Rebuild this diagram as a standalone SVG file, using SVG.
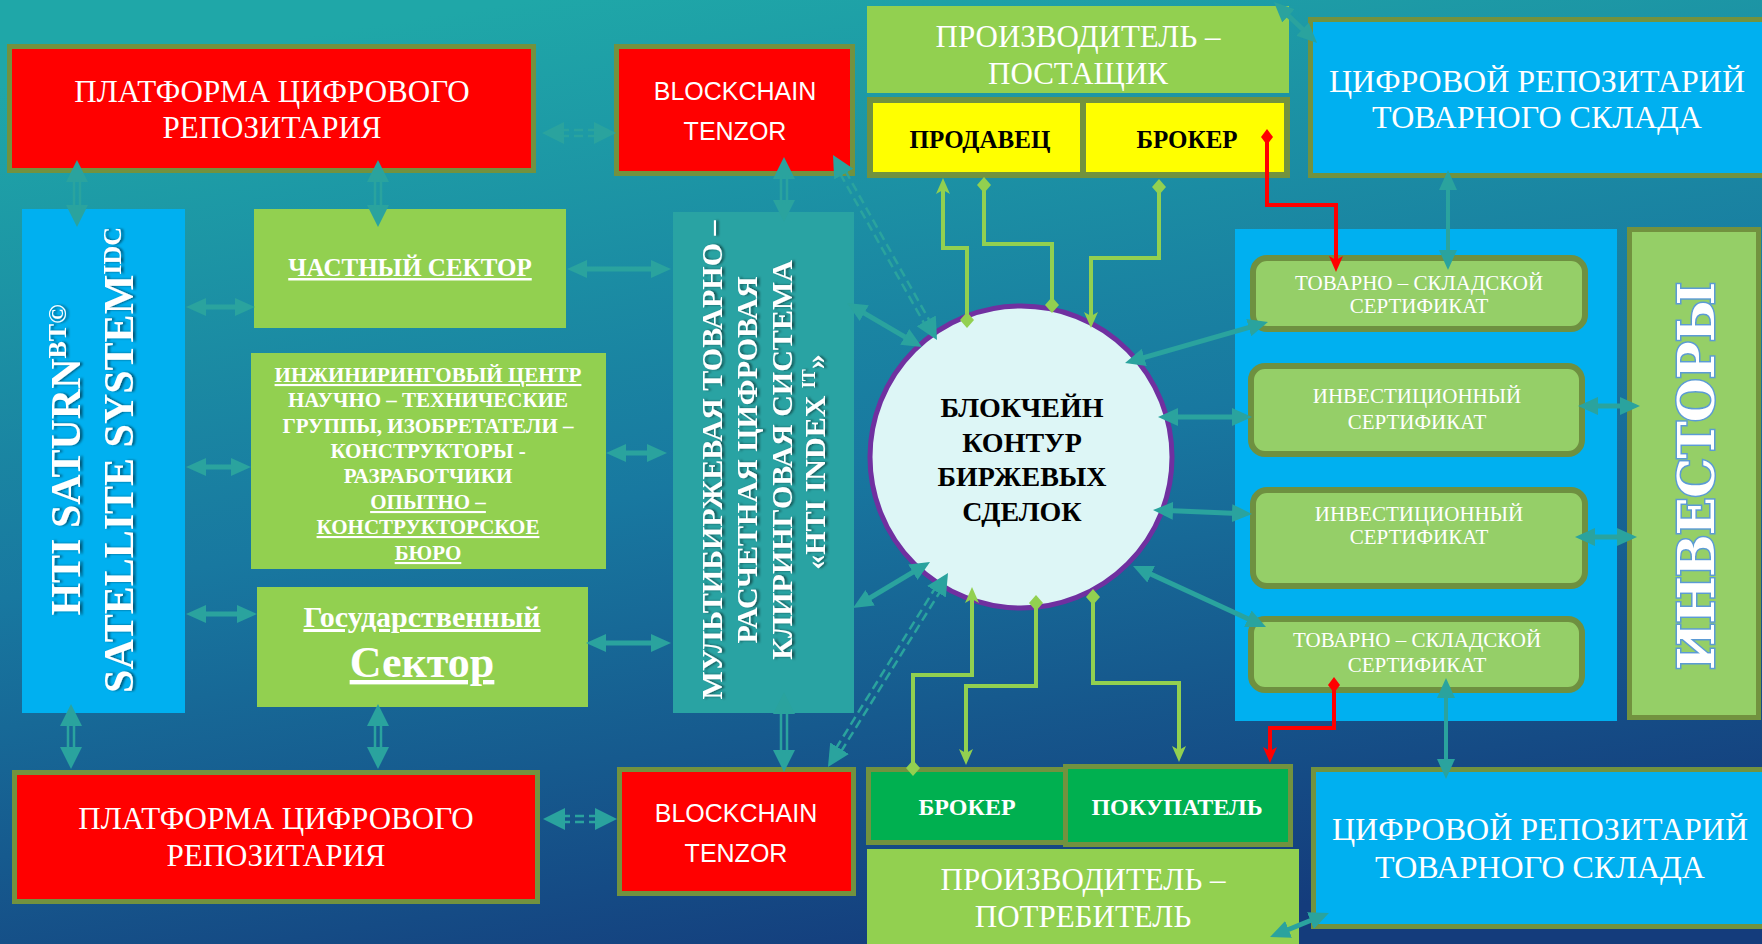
<svg xmlns="http://www.w3.org/2000/svg" width="1762" height="944" viewBox="0 0 1762 944">
<defs>
<linearGradient id="bg" x1="0.3" y1="0" x2="0.6" y2="1">
<stop offset="0" stop-color="#1FA7A8"/>
<stop offset="0.5" stop-color="#1878A0"/>
<stop offset="1" stop-color="#143C7C"/>
</linearGradient>
<filter id="sh" x="-10%" y="-20%" width="120%" height="140%"><feDropShadow dx="0" dy="2.5" stdDeviation="1.2" flood-color="#000" flood-opacity="0.5"/></filter>
<marker id="ta" viewBox="0 0 20 18" refX="6" refY="9" markerWidth="20" markerHeight="18" markerUnits="userSpaceOnUse" orient="auto-start-reverse"><path d="M0,0 L20,9 L0,18 z" fill="#2AA39E"/></marker>
<marker id="da" viewBox="0 0 22 22" refX="2" refY="11" markerWidth="22" markerHeight="22" markerUnits="userSpaceOnUse" orient="auto-start-reverse"><path d="M0,0 L22,11 L0,22 z" fill="#2AA39E"/></marker>
<marker id="ga" viewBox="0 0 16 14" refX="11" refY="7" markerWidth="16" markerHeight="14" markerUnits="userSpaceOnUse" orient="auto-start-reverse"><path d="M0,0 L16,7 L0,14 L4,7 z" fill="#92D050"/></marker>
<marker id="gd" viewBox="0 0 16 14" refX="8" refY="7" markerWidth="16" markerHeight="14" markerUnits="userSpaceOnUse" orient="auto"><path d="M0,7 L8,0 L16,7 L8,14 z" fill="#92D050"/></marker>
<marker id="ra" viewBox="0 0 16 14" refX="11" refY="7" markerWidth="16" markerHeight="14" markerUnits="userSpaceOnUse" orient="auto-start-reverse"><path d="M0,0 L16,7 L0,14 L4,7 z" fill="#FF0000"/></marker>
<marker id="rd" viewBox="0 0 16 12" refX="8" refY="6" markerWidth="16" markerHeight="12" markerUnits="userSpaceOnUse" orient="auto"><path d="M0,6 L8,0 L16,6 L8,12 z" fill="#FF0000"/></marker>
<style>
.s{font-family:"Liberation Serif","Times New Roman",serif}
.a{font-family:"Liberation Sans",Arial,sans-serif}
.w{fill:#FFFFFF}
.k{fill:#000000}
.b{font-weight:bold}
.m{text-anchor:middle}
.u{text-decoration:underline}
.rd{fill:#FF0000;stroke:#72923F;stroke-width:5}
.gr{fill:#92D050}
.bl{fill:#00B0F0}
.blb{fill:#00B0F0;stroke:#72923F;stroke-width:5}
.ye{fill:#FFFF00;stroke:#72923F;stroke-width:6}
.dg{fill:#00B050;stroke:#72923F;stroke-width:5}
.ct{fill:#95CF68;stroke:#6E9040;stroke-width:6}
.tl{fill:#29A3A3}
.inv{fill:#95CF67;stroke:#72923F;stroke-width:5}
.c1{fill:none;stroke:#2AA39E;stroke-width:5;marker-start:url(#ta);marker-end:url(#ta)}
.c2{fill:none;stroke:none;marker-start:url(#da);marker-end:url(#da)}
.dl{fill:none;stroke:#2AA39E;stroke-width:2.5}
.dd{fill:none;stroke:#2AA39E;stroke-width:2.5;stroke-dasharray:9 5}
.g{fill:none;stroke:#92D050;stroke-width:4}
.r{fill:none;stroke:#FF0000;stroke-width:4}
</style>
</defs>

<rect x="0" y="0" width="1762" height="944" fill="url(#bg)"/>

<g id="platform-top">
<rect class="rd" x="9.5" y="46.5" width="524" height="124"/>
<text class="s w m" font-size="31" x="272" y="102">ПЛАТФОРМА ЦИФРОВОГО</text>
<text class="s w m" font-size="31" x="272" y="138">РЕПОЗИТАРИЯ</text>
</g>

<g id="blockchain-top">
<rect class="rd" x="616.5" y="46.5" width="236" height="127"/>
<text class="a w m" font-size="25" x="735" y="100">BLOCKCHAIN</text>
<text class="a w m" font-size="25" x="735" y="140">TENZOR</text>
</g>

<g id="producer-supplier">
<rect class="gr" x="867" y="6" width="422" height="87"/>
<text class="s w m" font-size="31" x="1078" y="47">ПРОИЗВОДИТЕЛЬ –</text>
<text class="s w m" font-size="31" x="1078" y="84">ПОСТАЩИК</text>
</g>

<g id="seller-broker">
<rect class="ye" x="870" y="100" width="417" height="75"/>
<line x1="1083" y1="100" x2="1083" y2="175" stroke="#72923F" stroke-width="6"/>
<text class="s k b m" font-size="25" x="980" y="148">ПРОДАВЕЦ</text>
<text class="s k b m" font-size="25" x="1187" y="148">БРОКЕР</text>
</g>

<g id="repo-top">
<rect class="blb" x="1310.5" y="19.5" width="460" height="156"/>
<text class="s w m" font-size="32" x="1537" y="92">ЦИФРОВОЙ РЕПОЗИТАРИЙ</text>
<text class="s w m" font-size="32" x="1537" y="128">ТОВАРНОГО СКЛАДА</text>
</g>

<g id="hti-saturn">
<rect class="bl" x="22" y="209" width="163" height="504"/>
<text class="s w b m" font-size="42" filter="url(#sh)" transform="translate(80,460) rotate(-90)">HTI SATURN<tspan font-size="26" dy="-14">BT©</tspan></text>
<text class="s w b m" font-size="42" filter="url(#sh)" transform="translate(133,460) rotate(-90)">SATELLITE SYSTEM<tspan font-size="26" dy="-12">IDC</tspan></text>
</g>

<g id="private-sector">
<rect class="gr" x="254" y="209" width="312" height="119"/>
<text class="s w b m u" font-size="25" x="410" y="276">ЧАСТНЫЙ СЕКТОР</text>
</g>

<g id="engineering-center">
<rect class="gr" x="251" y="353" width="355" height="216"/>
<text class="s w b m u" font-size="21" x="428" y="382">ИНЖИНИРИНГОВЫЙ ЦЕНТР</text>
<text class="s w b m" font-size="21" x="428" y="407">НАУЧНО – ТЕХНИЧЕСКИЕ</text>
<text class="s w b m" font-size="21" x="428" y="433">ГРУППЫ, ИЗОБРЕТАТЕЛИ –</text>
<text class="s w b m" font-size="21" x="428" y="458">КОНСТРУКТОРЫ -</text>
<text class="s w b m" font-size="21" x="428" y="483">РАЗРАБОТЧИКИ</text>
<text class="s w b m u" font-size="21" x="428" y="509">ОПЫТНО –</text>
<text class="s w b m u" font-size="21" x="428" y="534">КОНСТРУКТОРСКОЕ</text>
<text class="s w b m u" font-size="21" x="428" y="560">БЮРО</text>
</g>

<g id="state-sector">
<rect class="gr" x="257" y="587" width="331" height="120"/>
<text class="s w b m u" font-size="30" x="422" y="627">Государственный</text>
<text class="s w b m u" font-size="44" x="422" y="677">Сектор</text>
</g>

<g id="clearing-system">
<rect class="tl" x="673" y="212" width="181" height="501"/>
<text class="s w b m" font-size="30" filter="url(#sh)" transform="translate(722,460) rotate(-90)">МУЛЬТИБИРЖЕВАЯ ТОВАРНО –</text>
<text class="s w b m" font-size="30" filter="url(#sh)" transform="translate(757,460) rotate(-90)">РАСЧЕТНАЯ ЦИФРОВАЯ</text>
<text class="s w b m" font-size="30" filter="url(#sh)" transform="translate(792,460) rotate(-90)">КЛИРИНГОВАЯ СИСТЕМА</text>
<text class="s w b m" font-size="30" filter="url(#sh)" transform="translate(825,462) rotate(-90)">«HTI INDEX <tspan font-size="18" dy="-10">IT</tspan><tspan dy="10">»</tspan></text>
</g>

<g id="blockchain-circuit">
<circle cx="1021" cy="457" r="151" fill="#DDF6F6" stroke="#7030A0" stroke-width="5"/>
<text class="s k b m" font-size="28" x="1022" y="417">БЛОКЧЕЙН</text>
<text class="s k b m" font-size="28" x="1022" y="452">КОНТУР</text>
<text class="s k b m" font-size="28" x="1022" y="486">БИРЖЕВЫХ</text>
<text class="s k b m" font-size="28" x="1022" y="521">СДЕЛОК</text>
</g>

<g id="certificates-panel">
<rect class="bl" x="1235" y="229" width="382" height="492"/>
</g>

<g id="cert-warehouse-1">
<rect class="ct" x="1253" y="258" width="332" height="71" rx="14"/>
<text class="s w m" font-size="21" x="1419" y="290">ТОВАРНО – СКЛАДСКОЙ</text>
<text class="s w m" font-size="21" x="1419" y="313">СЕРТИФИКАТ</text>
</g>

<g id="cert-investment-1">
<rect class="ct" x="1251" y="366" width="331" height="88" rx="14"/>
<text class="s w m" font-size="21" x="1417" y="403">ИНВЕСТИЦИОННЫЙ</text>
<text class="s w m" font-size="21" x="1417" y="429">СЕРТИФИКАТ</text>
</g>

<g id="cert-investment-2">
<rect class="ct" x="1253" y="490" width="332" height="96" rx="14"/>
<text class="s w m" font-size="21" x="1419" y="521">ИНВЕСТИЦИОННЫЙ</text>
<text class="s w m" font-size="21" x="1419" y="544">СЕРТИФИКАТ</text>
</g>

<g id="cert-warehouse-2">
<rect class="ct" x="1251" y="619" width="331" height="71" rx="14"/>
<text class="s w m" font-size="21" x="1417" y="647">ТОВАРНО – СКЛАДСКОЙ</text>
<text class="s w m" font-size="21" x="1417" y="672">СЕРТИФИКАТ</text>
</g>

<g id="investors">
<rect class="inv" x="1629.5" y="229.5" width="129" height="488"/>
<text font-family="'DejaVu Serif',serif" font-weight="bold" font-size="50" fill="#FFFFFF" stroke="#5B9BD5" stroke-width="3" paint-order="stroke" text-anchor="middle" textLength="388" transform="translate(1714,476) rotate(-90)">ИНВЕСТОРЫ</text>
</g>

<g id="platform-bottom">
<rect class="rd" x="14.5" y="772.5" width="523" height="129"/>
<text class="s w m" font-size="31" x="276" y="829">ПЛАТФОРМА ЦИФРОВОГО</text>
<text class="s w m" font-size="31" x="276" y="866">РЕПОЗИТАРИЯ</text>
</g>

<g id="blockchain-bottom">
<rect class="rd" x="619.5" y="769.5" width="234" height="124"/>
<text class="a w m" font-size="25" x="736" y="822">BLOCKCHAIN</text>
<text class="a w m" font-size="25" x="736" y="862">TENZOR</text>
</g>

<g id="broker-bottom">
<rect class="dg" x="868.5" y="769.5" width="200" height="73"/>
<text class="s w b m" font-size="24" x="967" y="815">БРОКЕР</text>
</g>

<g id="buyer">
<rect class="dg" x="1065.5" y="766.5" width="225" height="78"/>
<text class="s w b m" font-size="24" x="1177" y="815">ПОКУПАТЕЛЬ</text>
</g>

<g id="producer-consumer">
<rect class="gr" x="867" y="849" width="432" height="100"/>
<text class="s w m" font-size="31" x="1083" y="890">ПРОИЗВОДИТЕЛЬ –</text>
<text class="s w m" font-size="31" x="1083" y="927">ПОТРЕБИТЕЛЬ</text>
</g>

<g id="repo-bottom">
<rect class="blb" x="1313.5" y="769.5" width="460" height="157"/>
<text class="s w m" font-size="32" x="1540" y="840">ЦИФРОВОЙ РЕПОЗИТАРИЙ</text>
<text class="s w m" font-size="32" x="1540" y="878">ТОВАРНОГО СКЛАДА</text>
</g>

<g id="connectors">
<!-- horizontal single teal -->
<path class="c1" d="M200,307 H241"/>
<path class="c1" d="M200,467 H237"/>
<path class="c1" d="M200,614 H243"/>
<path class="c1" d="M581,269 H657"/>
<path class="c1" d="M620,453 H653"/>
<path class="c1" d="M600,643 H657"/>
<path class="c1" d="M1592,406 H1626"/>
<path class="c1" d="M1589,537 H1623"/>
<path class="c1" d="M1172,417 H1238"/>
<path class="c1" d="M1167,510.6 L1238,513.4"/>
<path class="c1" d="M1138.5,359.1 L1254.5,325.9"/>
<path class="c1" d="M1145.7,571.8 L1253.3,621.2"/>
<path class="c1" d="M859.1,310.1 L909.9,339.9"/>
<path class="c1" d="M865,600.8 L918,569.2"/>
<path class="c1" d="M1284.1,11.7 L1306.9,33.3"/>
<path class="c1" d="M1316,918.3 L1283,931.7"/>
<path class="c1" style="stroke-width:4" d="M1448,184 V256"/>
<path class="c1" style="stroke-width:4" d="M1446,692 V765"/>
<!-- double-line vertical -->
<path class="c2" d="M77,180 V207"/><path class="dl" d="M74,178 V209 M80,178 V209"/>
<path class="c2" d="M378,180 V207"/><path class="dl" d="M375,178 V209 M381,178 V209"/>
<path class="c2" d="M784,177 V202"/><path class="dl" d="M781,175 V204 M787,175 V204"/>
<path class="c2" d="M71,724 V749"/><path class="dl" d="M68,722 V751 M74,722 V751"/>
<path class="c2" d="M378,724 V749"/><path class="dl" d="M375,722 V751 M381,722 V751"/>
<path class="c2" d="M784,712 V752"/><path class="dl" d="M781,710 V754 M787,710 V754"/>
<!-- dashed double-line -->
<path class="c2" d="M562,133 H596"/><path class="dd" d="M560,130 H598 M560,136 H598"/>
<path class="c2" d="M563,819 H597"/><path class="dd" d="M561,816 H599 M561,822 H599"/>
<path class="c2" d="M842.8,172.4 L927.2,322.6"/><path class="dd" d="M840.2,173.9 L924.6,324.1 M845.4,170.9 L929.8,321.1"/>
<path class="c2" d="M838.5,750 L937.5,590"/><path class="dd" d="M841.05,751.6 L940.05,591.6 M835.95,748.4 L934.95,588.4"/>
<!-- green orthogonal -->
<path class="g" d="M943,183 V248 H967 V320" marker-start="url(#ga)" marker-end="url(#gd)"/>
<path class="g" d="M984,185 V244 H1052 V305" marker-start="url(#gd)" marker-end="url(#gd)"/>
<path class="g" d="M1159,187 V258 H1091 V323" marker-start="url(#gd)" marker-end="url(#ga)"/>
<path class="g" d="M972,592 V675 H913 V768" marker-start="url(#ga)" marker-end="url(#gd)"/>
<path class="g" d="M1036,603 V686 H966 V760" marker-start="url(#gd)" marker-end="url(#ga)"/>
<path class="g" d="M1093,597 V683 H1179 V757" marker-start="url(#gd)" marker-end="url(#ga)"/>
<!-- red orthogonal -->
<path class="r" d="M1267,137 V205 H1336 V267" marker-start="url(#rd)" marker-end="url(#ra)"/>
<path class="r" d="M1334,685 V728 H1270 V758" marker-start="url(#rd)" marker-end="url(#ra)"/>
</g>
</svg>
